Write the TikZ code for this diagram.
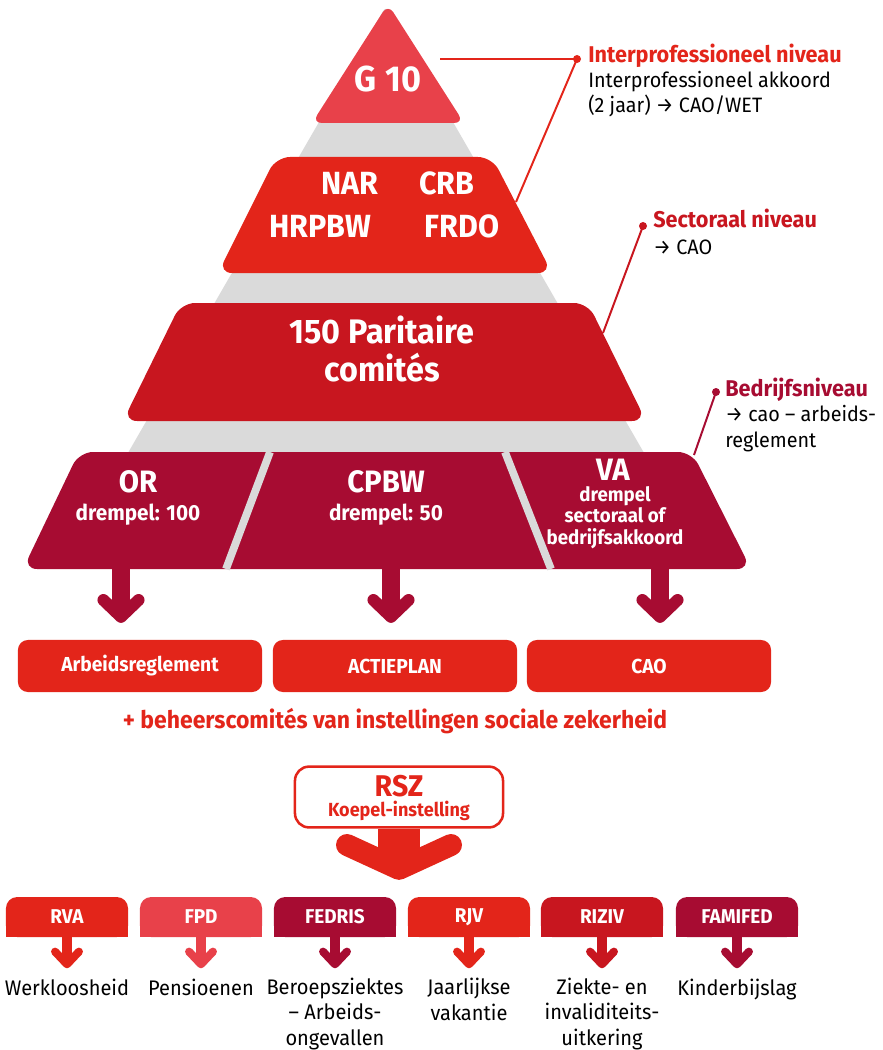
\documentclass[tikz,border=0pt]{standalone}
\usepackage{fontspec}
\setmainfont{Fira Sans}[FakeStretch=0.95]
\usepackage{tikz}
\usetikzlibrary{arrows.meta, positioning, backgrounds}
\definecolor{lightred}{HTML}{E8414A}
\definecolor{brightred}{HTML}{E3251A}
\definecolor{midred}{HTML}{C8161F}
\definecolor{darkred}{HTML}{A70C32}
\definecolor{pyrgray}{HTML}{DADADA}
\newcommand{\fs}[2]{\fontsize{#1}{#2}\selectfont}

\begin{document}
\begin{tikzpicture}[x=0.025cm, y=-0.025cm,
  tierlbl/.style={anchor=base, text=white, font=\bfseries\fs{22.8pt}{27pt}},
  calltitle/.style={anchor=base west, inner sep=0pt, font=\bfseries\fs{16.2pt}{18pt}},
  callbody/.style={anchor=base west, inner sep=0pt, font=\fs{14.8pt}{17.8pt}, align=left},
  callline/.style={line width=1.4pt},
  outbox/.style={fill=brightred, rounded corners=7pt, minimum width=6.1cm,
    minimum height=1.3cm, text=white, font=\bfseries\fs{14.4pt}{16pt}},
  tabbox/.style={rounded corners=8pt, minimum width=3.05cm, minimum height=1cm,
    text=white, font=\bfseries\fs{14.2pt}{16pt}},
  desc/.style={anchor=base, align=center, font=\fs{15pt}{17.8pt}},
  fatarrow/.style={line width=12.8pt, darkred,
    -{Straight Barb[length=12pt, width=25pt, line width=8.5pt, round]}},
  bigarrow/.style={line width=30pt, brightred,
    -{Straight Barb[length=17pt, width=74pt, line width=15.6pt, round]}},
  tabarrow/.style={line width=7pt,
    -{Straight Barb[length=9pt, width=17pt, line width=5.7pt, round]}},
]
  \useasboundingbox (0,0) rectangle (882,1050);

  % Pyramid
  \fill[pyrgray, rounded corners=4pt] (386,6) -- (707,562) -- (65,562) -- cycle;
  \fill[lightred, rounded corners=7pt] (388,4) -- (464,123) -- (312,123) -- cycle;
  \fill[brightred, rounded corners=10pt] (276,157) -- (492,157) -- (552,273) -- (218,273) -- cycle;
  \fill[midred, rounded corners=10pt] (181,303) -- (588,303) -- (646,421) -- (123,421) -- cycle;
  \fill[darkred, rounded corners=10pt] (79,452) -- (692,452) -- (751,569) -- (23,569) -- cycle;
  \draw[pyrgray, line width=5.5pt] (270,452) -- (226,569);
  \draw[pyrgray, line width=5.5pt] (505,452) -- (551,569);

  % Tier labels
  \node[tierlbl, font=\bfseries\fs{25.6pt}{30pt}] (g10) at (388,92) {G 10};
  \node[tierlbl] (nar) at (350,195) {NAR};
  \node[tierlbl] (crb) at (447,195) {CRB};
  \node[tierlbl] (hrpbw) at (320,237) {HRPBW};
  \node[tierlbl] (frdo) at (462,237) {FRDO};
  \node[tierlbl, font=\bfseries\fs{24.2pt}{27pt}] (pc) at (382,343) {150 Paritaire};
  \node[tierlbl, font=\bfseries\fs{24.2pt}{27pt}] (pc2) at (382,381) {comités};
  \node[tierlbl, font=\bfseries\fs{22pt}{24pt}] (or) at (138,492) {OR};
  \node[tierlbl, font=\bfseries\fs{15.5pt}{17pt}] (or2) at (138,520) {drempel: 100};
  \node[tierlbl, font=\bfseries\fs{22pt}{24pt}] (cpbw) at (386,492) {CPBW};
  \node[tierlbl, font=\bfseries\fs{15.5pt}{17pt}] (cpbw2) at (386,520) {drempel: 50};
  \node[tierlbl, font=\bfseries\fs{22pt}{24pt}] (va) at (613,480) {VA};
  \node[tierlbl, font=\bfseries\fs{14pt}{15pt}, align=center] (va2) at (615,544)
    {drempel\\sectoraal of\\bedrijfsakkoord};

  % Levels
  \coordinate (g10r) at (440,59);
  \coordinate (dot1) at (577,59);
  \coordinate (t2edge) at (516,202);
  \coordinate (dot2) at (643,226);
  \coordinate (t3edge) at (603,333);
  \coordinate (dot3) at (716,392);
  \coordinate (t4edge) at (694,455);
  \draw[callline, brightred] (g10r) -- (dot1) -- (t2edge);
  \fill[brightred] (dot1) circle (4);
  \draw[callline, midred] (dot2) -- (t3edge);
  \fill[midred] (dot2) circle (4);
  \draw[callline, darkred] (dot3) -- (t4edge);
  \fill[darkred] (dot3) circle (4);
  \node[calltitle, text=brightred] (inter) at (588,63) {Interprofessioneel niveau};
  \node[callbody] (inter2) at (588,113) {Interprofessioneel akkoord\\(2 jaar) → CAO/WET};
  \node[calltitle, text=midred] (sect) at (653,228) {Sectoraal niveau};
  \node[callbody] (sect2) at (653,254) {→ CAO};
  \node[calltitle, text=darkred] (bedr) at (725,396) {Bedrijfsniveau};
  \node[callbody] (bedr2) at (725,447) {→ cao – arbeids-\\reglement};

  % Outcomes
  \node[outbox] (arbeid) at (140,666) {Arbeidsreglement};
  \node[outbox] (actie) at (395,666) {ACTIEPLAN};
  \node[outbox] (cao) at (649,666) {CAO};
  \coordinate (orfoot) at (121,569);
  \coordinate (cpbwfoot) at (391,569);
  \coordinate (vafoot) at (660,569);
  \draw[fatarrow, shorten >=12pt] (orfoot) -- (orfoot |- arbeid.north);
  \draw[fatarrow, shorten >=12pt] (cpbwfoot) -- (cpbwfoot |- actie.north);
  \draw[fatarrow, shorten >=12pt] (vafoot) -- (vafoot |- cao.north);
  \node[anchor=base, text=brightred, font=\bfseries\fs{17.2pt}{19pt}] (beheer) at (395,728)
    {+ beheerscomités van instellingen sociale zekerheid};

  % RSZ
  \node[draw=brightred, line width=1.8pt, fill=white, rounded corners=10pt,
    minimum width=5.2cm, minimum height=1.52cm] (rsz) at (399,797) {};
  \node[anchor=base, inner sep=0pt, text=brightred, font=\bfseries\fs{21.3pt}{24pt}] (rsz1)
    at (399,796) {RSZ};
  \node[anchor=base, inner sep=0pt, text=brightred, font=\bfseries\fs{13.5pt}{16pt}] (rsz2)
    at (399,816) {Koepel-instelling};

  % Institutions
  \node[tabbox, fill=brightred] (rva) at (67,917) {RVA};
  \node[tabbox, fill=lightred] (fpd) at (201,917) {FPD};
  \node[tabbox, fill=darkred] (fedris) at (335,917) {FEDRIS};
  \node[tabbox, fill=brightred] (rjv) at (469,917) {RJV};
  \node[tabbox, fill=midred] (riziv) at (602,917) {RIZIV};
  \node[tabbox, fill=darkred] (famifed) at (737,917) {FAMIFED};
  \begin{scope}[on background layer]
    \fill[brightred] (rva.west) rectangle (rva.south east);
    \fill[lightred] (fpd.west) rectangle (fpd.south east);
    \fill[darkred] (fedris.west) rectangle (fedris.south east);
    \fill[brightred] (rjv.west) rectangle (rjv.south east);
    \fill[midred] (riziv.west) rectangle (riziv.south east);
    \fill[darkred] (famifed.west) rectangle (famifed.south east);
  \end{scope}
  \draw[bigarrow, shorten >=12pt] (rsz.south) -- (rsz.south |- fedris.north);

  \draw[tabarrow, brightred] (rva.south) -- ++(0,31);
  \draw[tabarrow, lightred] (fpd.south) -- ++(0,31);
  \draw[tabarrow, darkred] (fedris.south) -- ++(0,31);
  \draw[tabarrow, brightred] (rjv.south) -- ++(0,31);
  \draw[tabarrow, midred] (riziv.south) -- ++(0,31);
  \draw[tabarrow, darkred] (famifed.south) -- ++(0,31);

  \node[desc] (werk) at (67,995) {Werkloosheid};
  \node[desc] (pens) at (201,995) {Pensioenen};
  \node[desc] (beroep) at (335,1045) {Beroepsziektes\\– Arbeids-\\ongevallen};
  \node[desc] (vak) at (469,1020) {Jaarlijkse\\vakantie};
  \node[desc] (ziekte) at (602,1045) {Ziekte- en\\invaliditeits-\\uitkering};
  \node[desc] (kind) at (737,995) {Kinderbijslag};
\end{tikzpicture}
\end{document}
